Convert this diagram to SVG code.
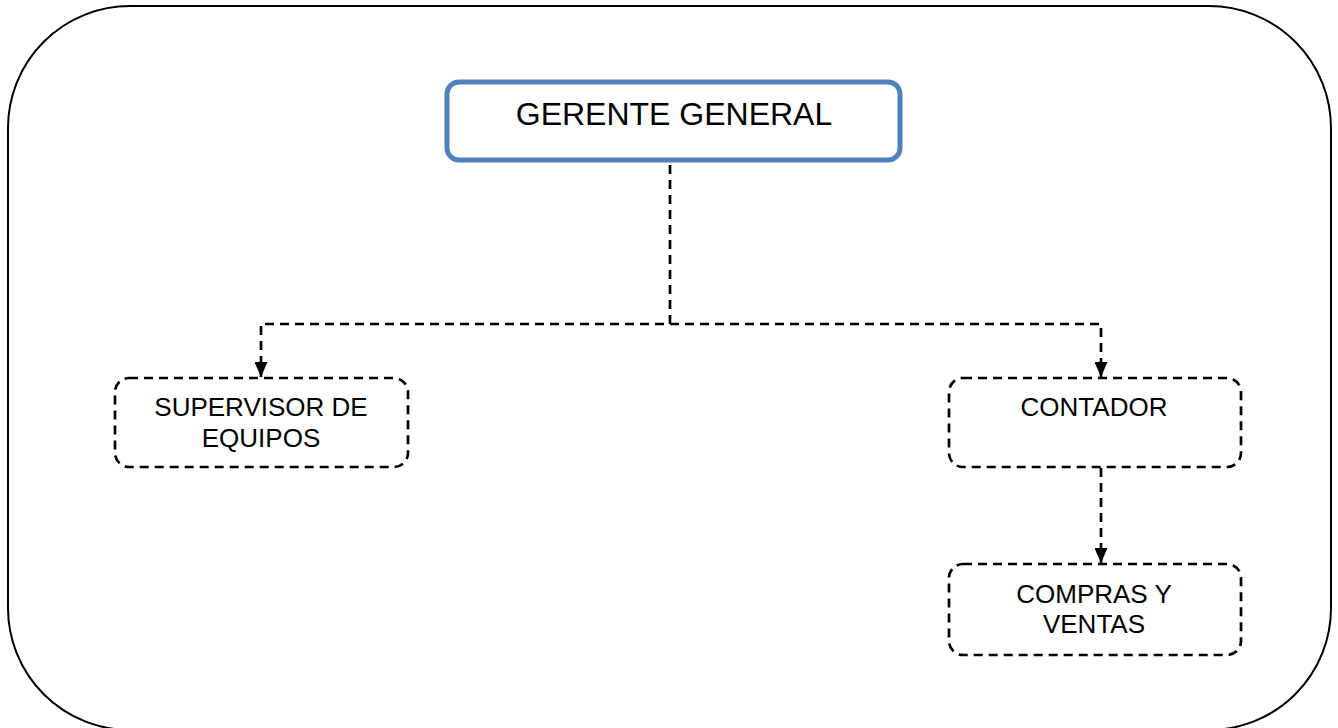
<svg xmlns="http://www.w3.org/2000/svg" width="1338" height="728" viewBox="0 0 1338 728">
  <style>
    .frame { fill: #ffffff; stroke: #000000; stroke-width: 2; }
    .boss { fill: #ffffff; stroke: #4F81BD; stroke-width: 5; }
    .unit { fill: #ffffff; stroke: #000000; stroke-width: 2.7; stroke-dasharray: 9 6; }
    .link { fill: none; stroke: #000000; stroke-width: 2.7; stroke-dasharray: 9 6; }
    .label { font-family: "Liberation Sans", Arial, sans-serif; fill: #000000; text-anchor: middle; }
  </style>
  <defs>
    <marker id="arrow" viewBox="0 0 10 10" refX="10" refY="5" markerWidth="15" markerHeight="13" markerUnits="userSpaceOnUse" orient="auto" preserveAspectRatio="none">
      <path d="M0,0 L10,5 L0,10 Z" fill="#000000"/>
    </marker>
  </defs>

  <rect class="frame" x="8" y="6" width="1323" height="724" rx="122" ry="122"/>

  <g id="connectors">
    <path class="link" d="M670,165 V324 H261 V377" marker-end="url(#arrow)"/>
    <path class="link" d="M670,324 H1101 V377" marker-end="url(#arrow)"/>
    <path class="link" d="M1101,468 V563" marker-end="url(#arrow)"/>
  </g>

  <g id="gerente">
    <rect class="boss" x="447" y="82" width="453" height="78" rx="12" ry="12"/>
    <text class="label" x="674" y="125" font-size="32">GERENTE GENERAL</text>
  </g>

  <g id="supervisor">
    <rect class="unit" x="115" y="378" width="293" height="89" rx="14" ry="14"/>
    <text class="label" x="261" y="416" font-size="26">SUPERVISOR DE</text>
    <text class="label" x="261" y="447" font-size="26">EQUIPOS</text>
  </g>

  <g id="contador">
    <rect class="unit" x="949" y="378" width="292" height="89" rx="14" ry="14"/>
    <text class="label" x="1094" y="416" font-size="26">CONTADOR</text>
  </g>

  <g id="compras">
    <rect class="unit" x="949" y="564" width="292" height="91" rx="14" ry="14"/>
    <text class="label" x="1094" y="603" font-size="26">COMPRAS Y</text>
    <text class="label" x="1094" y="633" font-size="26">VENTAS</text>
  </g>
</svg>
